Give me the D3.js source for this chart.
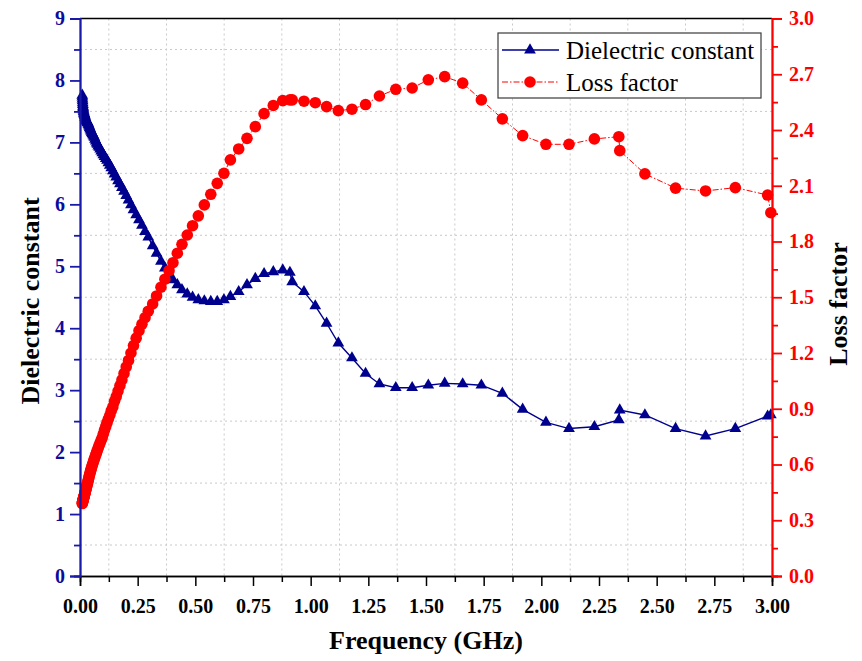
<!DOCTYPE html>
<html><head><meta charset="utf-8">
<script src="https://cdn.jsdelivr.net/npm/d3@7"></script>
<style>
body{margin:0;background:#fff}
svg{display:block}
text{font-family:"Liberation Serif","Times New Roman",serif}
</style>
</head><body>
<svg id="c" width="862" height="661"></svg>
<script>
// ---- data ----
const freq = [
 0.0097,0.0102,0.0107,0.0113,0.0118,0.0124,0.0130,0.0137,0.0144,0.0151,
 0.0158,0.0166,0.0175,0.0183,0.0193,0.0202,0.0212,0.0223,0.0234,0.0246,
 0.0258,0.0271,0.0285,0.0299,0.0314,0.0329,0.0346,0.0363,0.0381,0.0401,
 0.0421,0.0442,0.0464,0.0487,0.0511,0.0537,0.0563,0.0592,0.0621,0.0652,
 0.0685,0.0719,0.0755,0.0793,0.0833,0.0874,0.0918,0.0964,0.1012,0.1063,
 0.1116,0.1172,0.1230,0.1292,0.1356,0.1424,0.1495,0.1570,0.1649,0.1731,
 0.1817,0.1908,0.2004,0.2104,0.2209,0.2319,0.2435,0.2557,0.2685,0.2819,
 0.296,0.315,0.332,0.351,0.368,0.386,0.403,0.422,0.442,0.465,
 0.488,0.513,0.539,0.567,0.595,0.624,0.652,0.688,0.724,0.760,
 0.798,0.838,0.879,0.910,0.920,0.971,1.020,1.069,1.120,1.179,
 1.238,1.298,1.369,1.440,1.510,1.581,1.659,1.740,1.831,1.919,
 2.020,2.120,2.230,2.336,2.340,2.449,2.582,2.712,2.841,2.981,2.995
];
const dielectric = [
 7.76,7.73,7.70,7.67,7.64,7.61,7.58,7.56,7.54,7.52,
 7.50,7.49,7.47,7.46,7.45,7.44,7.43,7.41,7.40,7.38,
 7.37,7.36,7.35,7.34,7.33,7.32,7.31,7.29,7.28,7.26,
 7.24,7.22,7.20,7.18,7.16,7.14,7.12,7.10,7.08,7.05,
 7.02,6.99,6.97,6.94,6.92,6.89,6.86,6.83,6.80,6.77,
 6.74,6.71,6.67,6.63,6.59,6.54,6.49,6.44,6.38,6.33,
 6.27,6.21,6.14,6.07,5.99,5.91,5.83,5.75,5.66,5.56,
 5.47,5.33,5.21,5.08,4.97,4.86,4.78,4.70,4.62,4.55,
 4.50,4.46,4.44,4.43,4.43,4.46,4.51,4.59,4.70,4.80,
 4.88,4.91,4.94,4.90,4.75,4.59,4.36,4.08,3.76,3.52,
 3.27,3.10,3.04,3.04,3.08,3.11,3.10,3.08,2.95,2.69,
 2.48,2.38,2.41,2.52,2.68,2.60,2.38,2.26,2.38,2.58,2.60
];
const lossFactor = [
 0.390,0.393,0.396,0.400,0.402,0.405,0.408,0.411,0.414,0.417,
 0.420,0.424,0.428,0.432,0.436,0.440,0.445,0.450,0.455,0.461,
 0.467,0.473,0.480,0.487,0.494,0.501,0.510,0.519,0.528,0.538,
 0.548,0.558,0.568,0.578,0.588,0.598,0.608,0.619,0.630,0.641,
 0.653,0.665,0.678,0.691,0.704,0.717,0.731,0.745,0.765,0.785,
 0.805,0.825,0.845,0.865,0.890,0.910,0.940,0.965,0.995,1.025,
 1.055,1.090,1.125,1.160,1.200,1.240,1.280,1.320,1.355,1.390,
 1.425,1.464,1.507,1.554,1.597,1.643,1.686,1.737,1.785,1.835,
 1.885,1.938,1.997,2.054,2.113,2.167,2.239,2.298,2.355,2.418,
 2.488,2.532,2.558,2.562,2.562,2.555,2.547,2.526,2.504,2.512,
 2.537,2.583,2.619,2.626,2.670,2.687,2.652,2.562,2.460,2.370,
 2.323,2.323,2.352,2.364,2.289,2.164,2.087,2.072,2.090,2.050,1.955
];
const xTicks = [0,0.25,0.5,0.75,1,1.25,1.5,1.75,2,2.25,2.5,2.75,3];
const xMinor = [0.125,0.375,0.625,0.875,1.125,1.375,1.625,1.875,2.125,2.375,2.625,2.875];
const leftTicks = [0,1,2,3,4,5,6,7,8,9];
const leftMinor = [0.5,1.5,2.5,3.5,4.5,5.5,6.5,7.5,8.5];
const rightTicks = [0,0.3,0.6,0.9,1.2,1.5,1.8,2.1,2.4,2.7,3.0];
const rightMinor = [0.15,0.45,0.75,1.05,1.35,1.65,1.95,2.25,2.55,2.85];
const seriesNames = ["Dielectric constant","Loss factor"];
const xTitle = "Frequency (GHz)";
const yLeftTitle = "Dielectric constant";
const yRightTitle = "Loss factor";

// ---- drawing ----
const BLUE = "#00008f", BLUEAX = "#1a1aa8", RED = "#ff0000";
const L = 80, R = 772, T = 18.5, B = 576;
const svg = d3.select("#c");
const x = d3.scaleLinear().domain([0,3]).range([L,R]);
const yL = d3.scaleLinear().domain([0,9]).range([B,T]);
const yR = d3.scaleLinear().domain([0,3]).range([B,T]);

// grid
const grid = svg.append("g").attr("stroke","#c9c9c9").attr("stroke-width",1).attr("stroke-dasharray","2,3");
grid.selectAll("line.v").data(xMinor).join("line").attr("class","v")
  .attr("x1",d=>x(d)).attr("x2",d=>x(d)).attr("y1",T).attr("y2",B);
grid.selectAll("line.h").data(leftMinor).join("line").attr("class","h")
  .attr("x1",L).attr("x2",R).attr("y1",d=>yL(d)).attr("y2",d=>yL(d));

const data = freq.map((f,i)=>({f, d:dielectric[i], l:lossFactor[i]}));

// dielectric series
svg.append("path").datum(data)
  .attr("fill","none").attr("stroke",BLUE).attr("stroke-width",1.4)
  .attr("d", d3.line().x(p=>x(p.f)).y(p=>yL(p.d)));
const tri = d3.symbol().type(d3.symbolTriangle).size(60);
svg.append("g").selectAll("path").data(data).join("path")
  .attr("d",tri).attr("fill",BLUE)
  .attr("transform",p=>`translate(${x(p.f)},${yL(p.d)})`);

// loss factor series
svg.append("path").datum(data)
  .attr("fill","none").attr("stroke",RED).attr("stroke-width",1)
  .attr("stroke-dasharray","6,2,1.5,2")
  .attr("d", d3.line().x(p=>x(p.f)).y(p=>yR(p.l)));
svg.append("g").selectAll("circle").data(data).join("circle")
  .attr("cx",p=>x(p.f)).attr("cy",p=>yR(p.l)).attr("r",5.8).attr("fill",RED);

// axes
function styleAxis(g, color, width){
  g.select(".domain").attr("stroke",color).attr("stroke-width",width);
  g.selectAll(".tick line").attr("stroke",color).attr("stroke-width",width);
  g.selectAll(".tick text").attr("fill",color)
   .attr("font-size",20).attr("font-weight","bold")
   .attr("font-family",'"Liberation Serif","Times New Roman",serif');
}
// top border
svg.append("line").attr("x1",L).attr("x2",R).attr("y1",T).attr("y2",T).attr("stroke","#000").attr("stroke-width",1.5);

const gxm = svg.append("g").attr("transform",`translate(0,${B})`)
  .call(d3.axisBottom(x).tickValues(xMinor).tickSize(6).tickFormat(""));
styleAxis(gxm,"#000",1.5);
const gx = svg.append("g").attr("transform",`translate(0,${B})`)
  .call(d3.axisBottom(x).tickValues(xTicks).tickSize(10).tickPadding(12.5).tickFormat(d3.format(".2f")));
styleAxis(gx,"#000",1.5);

const glm = svg.append("g").attr("transform",`translate(${L},0)`)
  .call(d3.axisLeft(yL).tickValues(leftMinor).tickSize(6).tickFormat(""));
styleAxis(glm,BLUEAX,1.8);
const gl = svg.append("g").attr("transform",`translate(${L},0)`)
  .call(d3.axisLeft(yL).tickValues(leftTicks).tickSize(10).tickPadding(5).tickFormat(d3.format("d")));
styleAxis(gl,BLUEAX,1.8);
gl.selectAll(".tick text").attr("fill","#0c0c9c");

const grm = svg.append("g").attr("transform",`translate(${R},0)`)
  .call(d3.axisRight(yR).tickValues(rightMinor).tickSize(6).tickFormat(""));
styleAxis(grm,RED,1.8);
const gr = svg.append("g").attr("transform",`translate(${R},0)`)
  .call(d3.axisRight(yR).tickValues(rightTicks).tickSize(10).tickPadding(7).tickFormat(d3.format(".1f")));
styleAxis(gr,RED,1.8);

// titles
svg.append("text").attr("x",(L+R)/2).attr("y",649).attr("text-anchor","middle")
  .attr("font-size",26).attr("font-weight","bold").attr("fill","#000").text(xTitle);
svg.append("text").attr("transform",`translate(30,301) rotate(-90)`).attr("text-anchor","middle")
  .attr("dy","0.35em").attr("font-size",26).attr("font-weight","bold").attr("fill","#000").text(yLeftTitle);
svg.append("text").attr("transform",`translate(838,304) rotate(-90)`).attr("text-anchor","middle")
  .attr("dy","0.35em").attr("font-size",26).attr("font-weight","bold").attr("fill","#000").text(yRightTitle);

// legend
const lg = svg.append("g");
lg.append("rect").attr("x",498).attr("y",33).attr("width",263).attr("height",65)
  .attr("fill","#fff").attr("stroke","#3a3a3a").attr("stroke-width",1.2);
const rows = [
  {name:seriesNames[0], y:50, kind:"tri"},
  {name:seriesNames[1], y:82, kind:"circ"}
];
rows.forEach(r=>{
  const ln = lg.append("line").attr("x1",502).attr("x2",559).attr("y1",r.y).attr("y2",r.y);
  if(r.kind==="tri"){
    ln.attr("stroke",BLUE).attr("stroke-width",1.4);
    lg.append("path").attr("d",tri).attr("fill",BLUE).attr("transform",`translate(530,${r.y})`);
  } else {
    ln.attr("stroke",RED).attr("stroke-width",1).attr("stroke-dasharray","6,2,1.5,2");
    lg.append("circle").attr("cx",530).attr("cy",r.y).attr("r",5.8).attr("fill",RED);
  }
  lg.append("text").attr("x",566).attr("y",r.y+9).attr("font-size",25).attr("fill","#000").text(r.name);
});
</script>
</body></html>
